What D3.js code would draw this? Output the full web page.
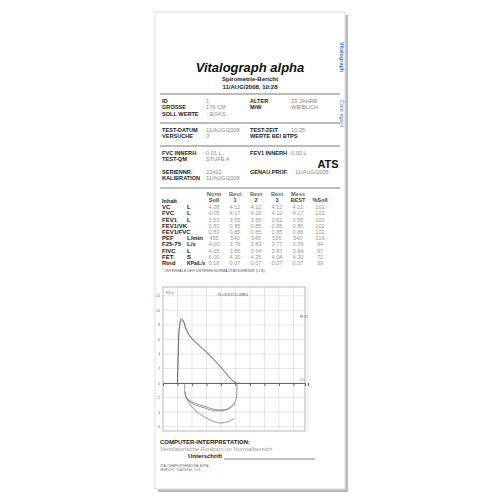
<!DOCTYPE html>
<html><head><meta charset="utf-8">
<script src="https://cdn.jsdelivr.net/npm/d3@7"></script>
<style>body{margin:0;background:#fff}text{font-family:"Liberation Sans",Arial,sans-serif}</style>
</head><body><div id="chart"></div>
<script>
// table data
const params = ["VC","FVC","FEV1","FEV1/VK","FEV1/FVC","PEF","F25-75","FIVC","FET","Rind"]
const units = ["L","L","L","","","L/min","L/s","L","S","KPa/L/s"]
const normSoll = ["4.08","4.05","3.53","0.83","0.83","455","4.00","4.05","6.00","0.18"]
const best1 = ["4.12","4.17","3.55","0.85","0.85","540","3.76","3.86","4.30","0.07"]
const best2 = ["4.12","4.16","3.55","0.85","0.85","545","3.83","3.94","4.35","0.07"]
const best3 = ["4.12","4.12","3.52","0.85","0.85","526","3.77","3.87","4.04","0.07"]
const messBest = ["4.12","4.17","3.55","0.85","0.85","540","3.76","3.94","4.30","0.07"]
const pctSoll = ["101","103","101","102","102","119","94","97","72","39"]

// flow-volume curves [volume L, flow L/s]
const expir1 = [[0,0],[0.05,4],[0.12,7.5],[0.25,8.9],[0.4,8.6],[0.6,7.2],[0.9,6.3],[1.5,5.2],[2,4.3],[2.5,3.3],[3,2.2],[3.4,1.2],[3.8,0.3],[4.1,0]]
const expir2 = [[0,0],[0.05,3.5],[0.15,7.8],[0.3,8.7],[0.5,8.1],[0.7,7],[1,6.1],[1.5,5.1],[2,4.2],[2.5,3.2],[3,2.1],[3.5,1],[3.9,0.2],[4.1,0]]
const inspir1 = [[0.5,0],[0.5,-1],[0.6,-2],[1,-2.6],[1.5,-3],[2,-3.3],[2.5,-3.6],[3,-3.7],[3.5,-3.5],[4,-2.5],[4.1,-1],[4.1,0]]
const inspir2 = [[0.5,-1.2],[0.7,-2.4],[1,-3.3],[1.5,-4.2],[2,-4.8],[2.5,-5.3],[3,-5.5],[3.5,-5.3],[3.9,-4.9]]
const inspir3 = [[0.6,-2.1],[1,-2.8],[1.5,-3.2],[2,-3.5],[2.5,-3.8],[3,-3.8],[3.5,-3.6],[4,-2.8]]
const xTicks = [0,1,2,3,4,5,6,7,8,9]
const yTicks = [-6,-4,-2,0,2,4,6,8,10,12]

const svg = d3.select("#chart").append("svg").attr("width",500).attr("height",500)

// paper
svg.append("rect").attr("x",158).attr("y",15).attr("width",190).attr("height",477).attr("fill","#bbb")
svg.append("rect").attr("x",155).attr("y",12).attr("width",190).attr("height",477).attr("fill","#fff").attr("stroke","#ddd")

function txt(x, y, s, opts = {}) {
    return svg.append("text").attr("x",x).attr("y",y).text(s)
        .attr("font-size", opts.size || 5.6)
        .attr("font-weight", opts.bold ? "bold" : "normal")
        .attr("fill", opts.fill || (opts.bold ? "#222" : "#888"))
        .attr("text-anchor", opts.anchor || "start")
}

// side labels
svg.append("text").attr("transform","translate(340,42) rotate(90)").text("Vitalograph").attr("font-size",5.5).attr("fill","#2a7bd0").attr("font-weight","bold")
svg.append("text").attr("transform","translate(340,100) rotate(90)").text("Care again").attr("font-size",5.5).attr("fill","#2a7bd0")

// header
txt(250,72,"Vitalograph alpha",{size:13,bold:true,anchor:"middle",fill:"#111"}).attr("font-family","DejaVu Serif").attr("font-style","italic")
txt(250,81,"Spirometrie-Bericht",{size:6,bold:true,anchor:"middle"})
txt(250,89,"11/AUG/2008, 10:28",{size:6,bold:true,anchor:"middle"})

const hline = y => svg.append("line").attr("x1",160).attr("x2",340).attr("y1",y).attr("y2",y).attr("stroke","#555").attr("stroke-width",0.8)
hline(94); hline(123); hline(146); hline(188)

const info = [
    [103,"ID",": 1","ALTER",": 33 JAHRE"],
    [109,"GRÖSSE",": 176 CM","M/W",": WEIBLICH"],
    [116,"SOLL WERTE",": EGKS","",""],
    [132,"TEST-DATUM",": 11/AUG/2008","TEST-ZEIT",": 10:25"],
    [138,"VERSUCHE",": 3","WERTE BEI BTPS",""],
    [155,"FVC INNERH",": 0.01 L","FEV1 INNERH",": 0.00 L"],
    [161,"TEST-QM",":  STUFE A","",""],
    [174,"SERIENNR.",": 22422","GENAU.PRÜF.",": 11/AUG/2008"],
    [180,"KALIBRATION",": 11/AUG/2008","",""]]
info.forEach(r => {
    txt(162,r[0],r[1],{bold:true})
    txt(r[1]==="SOLL WERTE" ? 207 : 203, r[0], r[2])
    txt(250,r[0],r[3],{bold:true})
    txt(r[3]==="GENAU.PRÜF." ? 292 : 288,r[0],r[4])
})
txt(328,168,"ATS",{size:11,bold:true,anchor:"middle",fill:"#111"})

// table
const cols = [214,235,256,277,298,320]
const rowY = d3.scaleBand().domain(params).range([203,265])
;["Norm","Best","Best","Best","Mess",""].forEach((h,i) => txt(cols[i],196,h,{bold:true,anchor:"middle",fill:"#666"}))
;["Soll","1","2","3","BEST","%Soll"].forEach((h,i) => txt(cols[i],202,h,{bold:true,anchor:"middle",fill:"#444"}))
txt(162,203,"Inhalt",{bold:true})
const colData = [normSoll,best1,best2,best3,messBest,pctSoll]
params.forEach((p,i) => {
    const y = rowY(p) + rowY.bandwidth()
    txt(162,y,p,{bold:true,size:6})
    txt(187,y,units[i],{bold:true,size:units[i].length > 5 ? 5 : 6})
    colData.forEach((c,j) => txt(cols[j],y,c[i],{anchor:"middle",fill:"#999"}))
})
txt(162,272,"* UNTERHALB DER UNTEREN NORMALITÄTSGRENZE (LLN)",{size:3.6,fill:"#555"})

// flow-volume chart
const x = d3.scaleLinear().domain([-1,8.8]).range([163,305])
const y = d3.scaleLinear().domain([-6.6,13.2]).range([431,287])
const g = svg.append("g")
g.append("rect").attr("x",163).attr("y",287).attr("width",142).attr("height",144).attr("fill","none").attr("stroke","#888").attr("stroke-width",0.6)
g.selectAll(".vg").data(xTicks).join("line").attr("x1",d=>x(d)).attr("x2",d=>x(d)).attr("y1",287).attr("y2",431).attr("stroke","#ccc").attr("stroke-width",0.5)
g.selectAll(".hg").data(yTicks).join("line").attr("x1",163).attr("x2",305).attr("y1",d=>y(d)).attr("y2",d=>y(d)).attr("stroke","#ccc").attr("stroke-width",0.5)
g.append("g").attr("transform","translate(0,"+y(0)+")")
    .call(d3.axisBottom(x).tickValues(xTicks).tickSize(3).tickFormat(""))
    .call(a => a.select(".domain").attr("stroke","#666"))
    .call(a => a.selectAll(".tick line").attr("stroke","#666"))
g.selectAll(".yl").data(yTicks).join("text").attr("x",160).attr("y",d=>y(d)+1.5).text(d=>Math.abs(d)).attr("font-size",3.5).attr("fill","#666").attr("text-anchor","end")
txt(166,294,"F/L/s",{size:3.5,fill:"#666"})
txt(300,381,"V L",{size:3.5,fill:"#666"})
txt(300,318,"M 21",{size:3.5,fill:"#666"})
txt(233,296,"FLUSS/VOLUMEN",{size:3.5,fill:"#666",anchor:"middle"})

const line = d3.line().x(d=>x(d[0])).y(d=>y(d[1])).curve(d3.curveCatmullRom)
;[expir1,expir2,inspir1,inspir2,inspir3].forEach(c =>
    g.append("path").attr("d",line(c)).attr("fill","none").attr("stroke","#555").attr("stroke-width",0.6))

// footer
txt(160,444,"COMPUTER-INTERPRETATION:",{bold:true,size:6})
txt(160,451,"Ventilatorische Funktion im Normalbereich",{size:6,fill:"#999"})
txt(188,458,"Unterschrift",{bold:true,size:6})
svg.append("line").attr("x1",224).attr("x2",315).attr("y1",459).attr("y2",459).attr("stroke","#333").attr("stroke-width",0.6)
txt(160,467,"VITALOGRAPH INTERNATIONAL ALPHA",{size:2.6,fill:"#666"})
txt(160,471,"GEDRUCKT : 11/AUG/2008, 10:28",{size:2.6,fill:"#666"})
</script></body></html>
